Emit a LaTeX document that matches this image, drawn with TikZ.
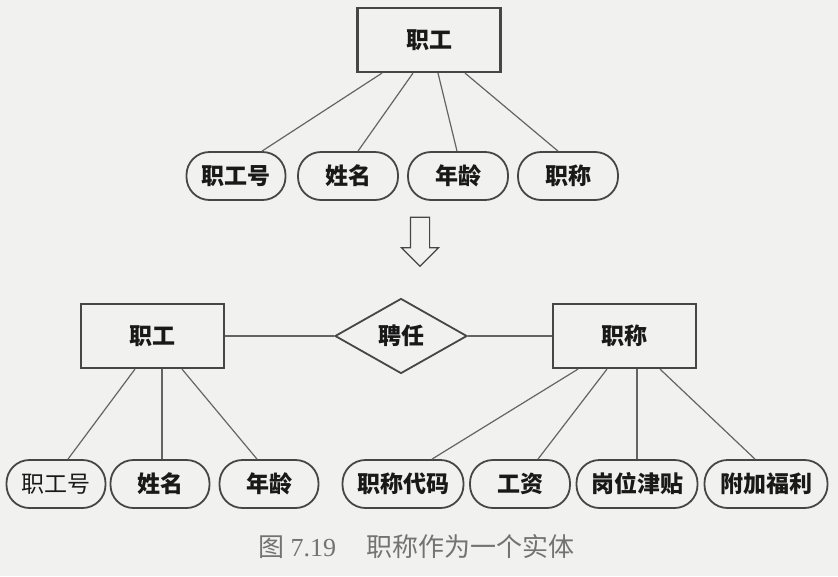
\documentclass[tikz,border=0pt]{standalone}
\usepackage{fontspec}
\setmainfont{Liberation Serif}
\newfontfamily\cjk{Noto Sans CJK SC}
\usetikzlibrary{shapes,arrows,positioning,calc}
\definecolor{erborder}{RGB}{70, 70, 70}
\definecolor{erline}{RGB}{100, 100, 100}
\definecolor{erpaper}{RGB}{241, 241, 239}
\definecolor{ertext}{RGB}{25, 25, 25}
\definecolor{ercaption}{RGB}{115, 115, 115}

\begin{document}
\begin{tikzpicture}[x=1pt, y=-1pt, >=latex]
    \tikzstyle{entity} = [rectangle, draw=erborder, line width=2.2pt, fill=erpaper, minimum width=143pt, minimum height=64pt, text=ertext, font=\cjk\bfseries\fontsize{23}{26}\selectfont]
    \tikzstyle{attrib} = [rectangle, draw=erborder, line width=1.8pt, fill=erpaper, rounded corners=23pt, minimum height=48pt, inner sep=0pt, text=ertext, font=\cjk\bfseries\fontsize{23}{26}\selectfont]
    \tikzstyle{relation} = [diamond, draw=erborder, line width=1.8pt, fill=erpaper, aspect=1.76, minimum width=132pt, minimum height=75pt, inner sep=0pt, text=ertext, font=\cjk\bfseries\fontsize{23}{26}\selectfont]
    \tikzstyle{line} = [draw, erline, line width=1.2pt]

    \fill [erpaper] (0,0) rectangle (838,576);
    \useasboundingbox (0,0) rectangle (838,576);

    % before: title kept as attribute
    \node [entity] (emp) at (429,40) {职工};
    \node [attrib, minimum width=99pt] (empno) at (236,176) {职工号};
    \node [attrib, minimum width=100pt] (name) at (348,176) {姓名};
    \node [attrib, minimum width=100pt] (age) at (458,176) {年龄};
    \node [attrib, minimum width=100pt] (title) at (568,176) {职称};

    \path [line] ([xshift=-47pt]emp.south) -- ([xshift=26pt]empno.north);
    \path [line] ([xshift=-16pt]emp.south) -- ([xshift=10pt]name.north);
    \path [line] ([xshift=9pt]emp.south) -- ([xshift=-1pt]age.north);
    \path [line] ([xshift=36pt]emp.south) -- ([xshift=-10pt]title.north);

    \node [single arrow, draw=erborder, line width=1.2pt, fill=erpaper, shape border rotate=270, minimum height=49pt, minimum width=36pt, inner sep=9pt, single arrow head extend=9pt] (turn) at (420,237) {};

    % after: title as an entity of its own
    \node [entity] (emp2) at (152.5,336) {职工};
    \node [relation] (hire) at (401,336) {聘任};
    \node [entity] (rank) at (624.5,336) {职称};

    \path [line] (emp2) -- (hire);
    \path [line] (hire) -- (rank);

    \node [attrib, minimum width=99pt, font=\cjk\fontsize{23}{26}\selectfont] (empno2) at (56,484) {职工号};
    \node [attrib, minimum width=99pt] (name2) at (160,484) {姓名};
    \node [attrib, minimum width=99pt] (age2) at (269,484) {年龄};
    \node [attrib, minimum width=121pt] (code) at (403,484) {职称代码};
    \node [attrib, minimum width=100pt] (pay) at (520,484) {工资};
    \node [attrib, minimum width=121pt] (bonus) at (637,484) {岗位津贴};
    \node [attrib, minimum width=123pt] (welfare) at (766,484) {附加福利};

    \path [line] ([xshift=-17.5pt]emp2.south) -- ([xshift=12pt]empno2.north);
    \path [line] ([xshift=9.5pt]emp2.south) -- ([xshift=2pt]name2.north);
    \path [line] ([xshift=29.5pt]emp2.south) -- ([xshift=-12pt]age2.north);
    \path [line] ([xshift=-46.5pt]rank.south) -- ([xshift=29pt]code.north);
    \path [line] ([xshift=-17.5pt]rank.south) -- ([xshift=18pt]pay.north);
    \path [line] ([xshift=12.5pt]rank.south) -- (bonus.north);
    \path [line] ([xshift=35.5pt]rank.south) -- ([xshift=-11pt]welfare.north);

    \node [text=ercaption, font=\fontsize{26}{30}\selectfont] (caption) at (416,547) {{\cjk 图} 7.19\hspace{30pt}{\cjk 职称作为一个实体}};
\end{tikzpicture}
\end{document}
